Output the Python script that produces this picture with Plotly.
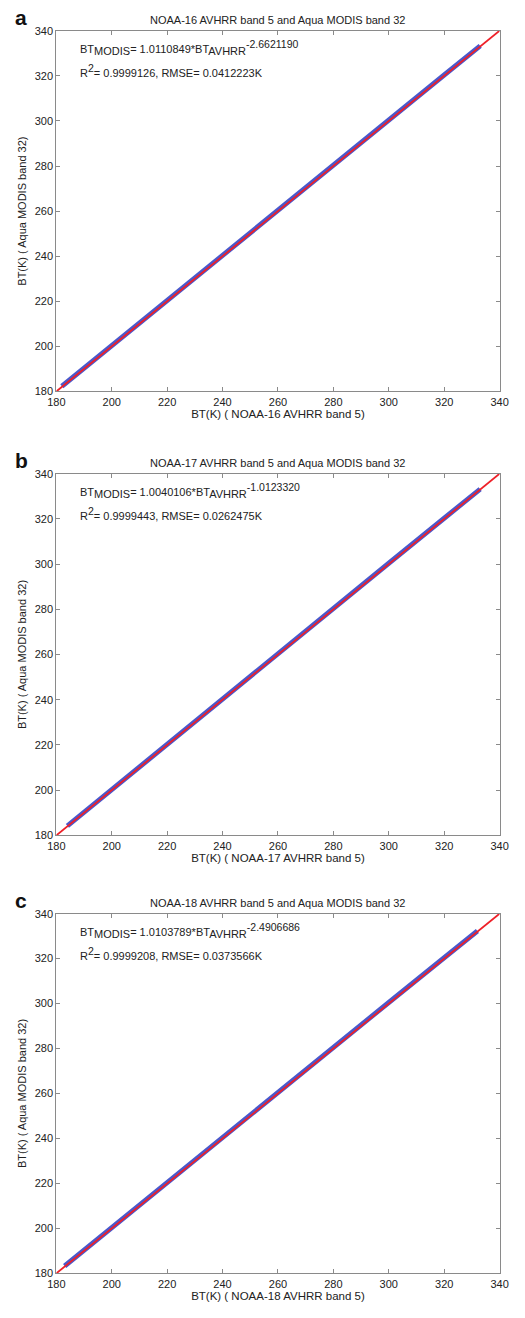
import plotly.graph_objects as go

W, H = 525, 1318

# ---- data ----
panel_letters = ["a", "b", "c"]
panel_titles = [
    "NOAA-16 AVHRR band 5 and Aqua MODIS band 32",
    "NOAA-17 AVHRR band 5 and Aqua MODIS band 32",
    "NOAA-18 AVHRR band 5 and Aqua MODIS band 32",
]
x_titles = [
    "BT(K) ( NOAA-16 AVHRR band 5)",
    "BT(K) ( NOAA-17 AVHRR band 5)",
    "BT(K) ( NOAA-18 AVHRR band 5)",
]
y_title = "BT(K) ( Aqua MODIS band 32)"
slopes = ["1.0110849", "1.0040106", "1.0103789"]
intercepts = ["-2.6621190", "-1.0123320", "-2.4906686"]
r2_vals = ["0.9999126", "0.9999443", "0.9999208"]
rmse_vals = ["0.0412223K", "0.0262475K", "0.0373566K"]
# scatter band (AVHRR BT vs MODIS BT), sampled along the blue cloud
scatter_x = [
    [182, 200, 220, 240, 260, 280, 300, 320, 333],
    [184, 200, 220, 240, 260, 280, 300, 320, 333],
    [183, 200, 220, 240, 260, 280, 300, 320, 332],
]
scatter_y = [
    [182.3, 200.4, 220.5, 240.6, 260.6, 280.6, 300.5, 320.4, 333.3],
    [184.2, 200.3, 220.4, 240.5, 260.5, 280.5, 300.4, 320.3, 333.2],
    [183.3, 200.4, 220.5, 240.5, 260.6, 280.5, 300.5, 320.4, 332.3],
]
line_x = [180, 340]
line_y = [180, 340]
ticks = [180, 200, 220, 240, 260, 280, 300, 320, 340]

# ---- layout geometry (pixels) ----
x_left, x_right = 49, 508
panels_px = [(25, 389), (472, 837), (916, 1279)]

FONT = "Liberation Sans, Arial, sans-serif"
AX_COL = "#8a8a8a"
TXT = "#222222"
BLUE = "#2a3cc4"
RED = "#ee2028"


def small(s, sz=10):
    return f'<span style="font-size:{sz}px">{s}</span>'


fig = go.Figure()
layout = dict(
    width=W, height=H, margin=dict(l=0, r=0, t=0, b=0),
    paper_bgcolor="white", plot_bgcolor="white", showlegend=False,
    font=dict(family=FONT, color=TXT, size=11),
)
annotations = []
for i in range(3):
    top, bot = panels_px[i]
    xa = "x" if i == 0 else f"x{i+1}"
    ya = "y" if i == 0 else f"y{i+1}"
    xkey = "xaxis" if i == 0 else f"xaxis{i+1}"
    ykey = "yaxis" if i == 0 else f"yaxis{i+1}"
    fig.add_trace(go.Scatter(x=scatter_x[i], y=scatter_y[i], mode="lines",
                             line=dict(color=BLUE, width=5), xaxis=xa, yaxis=ya,
                             opacity=0.85))
    fig.add_trace(go.Scatter(x=line_x, y=line_y, mode="lines",
                             line=dict(color=RED, width=1.8), xaxis=xa, yaxis=ya))
    common = dict(range=[180, 340], tickvals=ticks, ticks="inside", ticklen=4,
                  tickcolor=AX_COL, showline=True, linecolor=AX_COL, linewidth=1,
                  mirror="ticks", showgrid=False, zeroline=False,
                  tickfont=dict(family=FONT, size=11, color=TXT))
    layout[xkey] = dict(common, domain=[x_left / W, x_right / W], anchor=ya,
                        title=dict(text=x_titles[i], standoff=2,
                                   font=dict(family=FONT, size=11.5, color=TXT)))
    layout[ykey] = dict(common, domain=[1 - bot / H, 1 - top / H], anchor=xa,
                        title=dict(text=y_title, standoff=5,
                                   font=dict(family=FONT, size=11, color=TXT)))
    annotations.append(dict(text=panel_titles[i], x=(x_left + x_right) / 2 / W,
                            y=1 - (top - 11) / H, xref="paper", yref="paper",
                            xanchor="center", yanchor="middle", showarrow=False,
                            font=dict(family=FONT, size=11, color=TXT)))
    annotations.append(dict(text="<b>" + panel_letters[i] + "</b>", x=4 / W,
                            y=1 - (top - 13) / H, xref="paper", yref="paper",
                            xanchor="left", yanchor="middle", showarrow=False,
                            font=dict(family=FONT, size=21, color="#111")))
    eq = ("BT<sub>" + small("MODIS", 11) + "</sub>= " + slopes[i] + "*BT<sub>"
          + small("AVHRR", 11) + "</sub><sup>" + small(intercepts[i], 10.5) + "</sup>")
    r2 = ("R<sup>" + small("2", 10.5) + "</sup>= " + r2_vals[i] + ", RMSE= " + rmse_vals[i])
    annotations.append(dict(text=eq, x=188, y=332.5, xref=xa, yref=ya,
                            xanchor="left", yanchor="middle", showarrow=False,
                            font=dict(family=FONT, size=11, color=TXT)))
    annotations.append(dict(text=r2, x=188, y=322.5, xref=xa, yref=ya,
                            xanchor="left", yanchor="middle", showarrow=False,
                            font=dict(family=FONT, size=11, color=TXT)))

layout["annotations"] = annotations
fig.update_layout(**layout)
fig.write_html("out.html")
